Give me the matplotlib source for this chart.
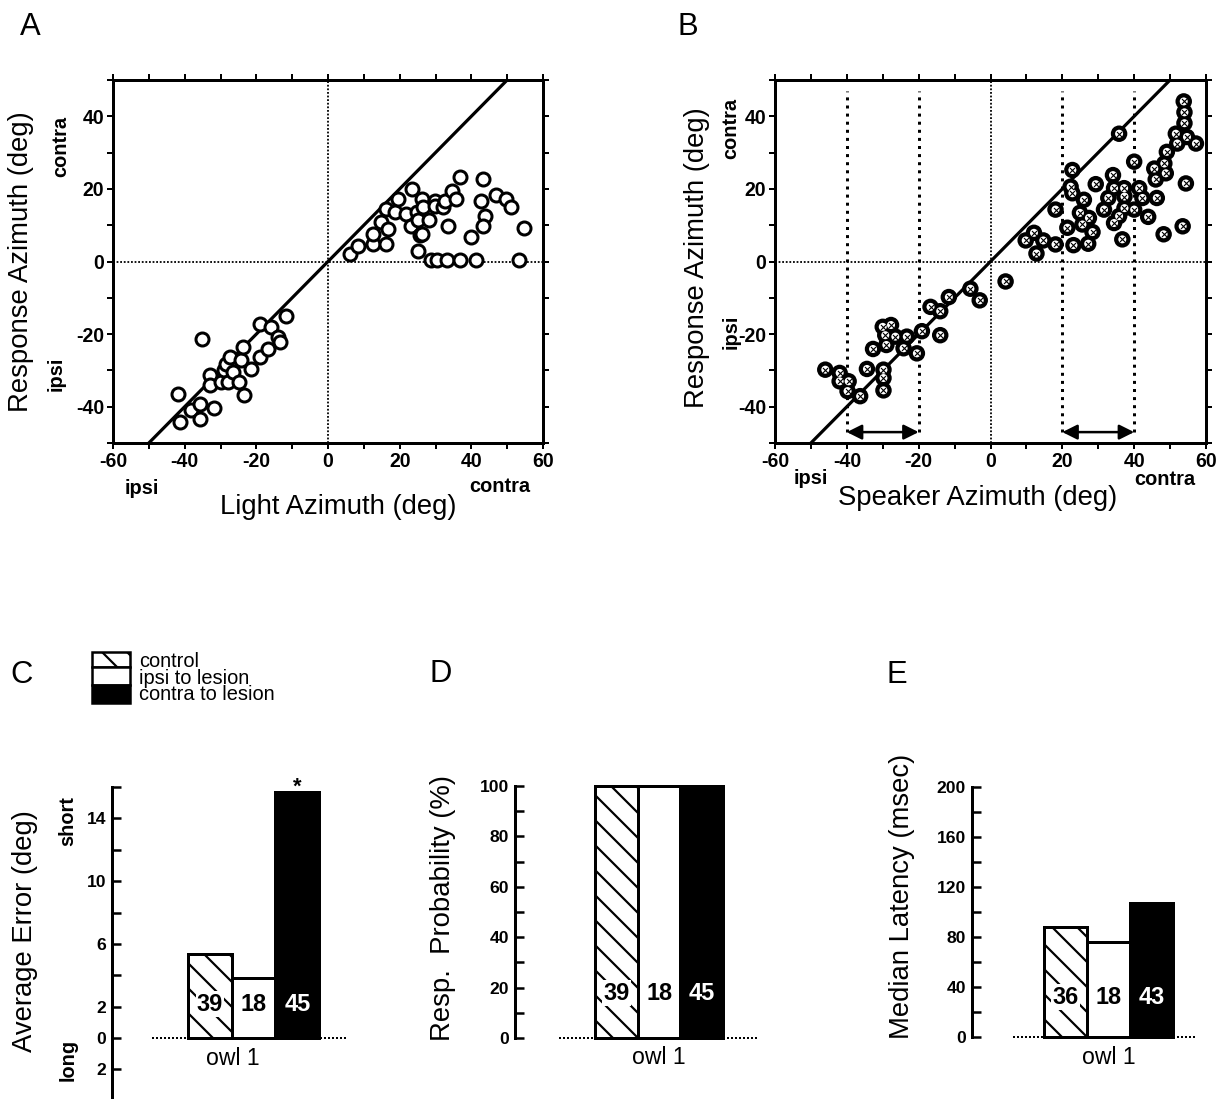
import matplotlib
matplotlib.use('Agg')
import matplotlib.pyplot as plt
from matplotlib.patches import Rectangle
from matplotlib.ticker import MultipleLocator, FixedLocator, FixedFormatter

# ---------------- data ----------------
# Panel A: light azimuth vs response azimuth (deg)
light_az = [-41.9, -41.4, -38.1, -35.8, -35.8, -35.3, -31.8, -32.8, -32.8, -29.8,
            -29.1, -28.6, -27.4, -27.9, -26.5, -24.7, -24.2, -23.7, -23.5, -21.4,
            -19.1, -19.1, -16.7, -15.8, -14.0, -13.5, -11.6,
            6.0, 8.4, 12.6, 12.6, 16.1, 14.9, 16.7, 16.3, 18.6, 19.5, 21.9, 23.3,
            23.5, 24.7, 25.1, 25.6, 26.3, 25.1, 26.3, 26.5, 28.2, 28.8, 29.8, 29.8,
            30.4, 32.1, 32.6, 33.2, 33.5, 34.7, 35.8, 36.7, 36.9, 40.0, 41.4, 43.3,
            42.8, 43.7, 43.3, 47.0, 49.8, 51.2, 53.3, 54.6]
light_resp = [-36.4, -44.2, -41.0, -39.2, -43.3, -21.3, -40.4, -31.4, -34.1, -33.2,
              -30.0, -28.2, -26.3, -33.2, -30.5, -33.2, -27.2, -23.6, -36.9, -29.5,
              -26.3, -17.3, -24.0, -18.1, -20.8, -22.2, -14.9,
              2.1, 4.4, 4.9, 7.6, 4.9, 10.8, 9.0, 14.5, 13.6, 17.2, 13.1, 9.9,
              20.0, 13.6, 11.3, 7.2, 7.6, 3.0, 17.2, 15.0, 11.3, 0.3, 16.8, 15.4,
              0.3, 15.0, 16.8, 0.3, 9.9, 19.5, 17.2, 23.2, 0.3, 6.7, 0.3, 22.8,
              16.8, 12.4, 9.9, 18.4, 17.2, 15.0, 0.3, 9.3]

# Panel B: speaker azimuth vs response azimuth (deg)
speaker_az = [-46.0, -42.0, -42.0, -39.5, -39.8, -36.3, -34.4, -29.8, -29.8, -29.8,
              -32.7, -29.0, -30.0, -27.7, -29.3, -26.5, -24.2, -23.3, -20.5, -19.1,
              -16.7, -14.0, -14.0, -11.6, -5.6, -3.0, 4.2,
              9.8, 12.1, 14.7, 12.8, 18.1, 18.1, 21.4, 23.1, 27.2, 22.8, 22.3, 22.8,
              26.0, 24.9, 27.4, 25.6, 28.4, 29.3, 31.6, 32.8, 34.1, 34.4, 34.4, 37.3,
              37.3, 37.2, 35.8, 36.7, 35.8, 40.0, 40.0, 41.4, 42.3, 43.9, 45.6, 46.0,
              46.3, 48.4, 48.8, 49.1, 48.2, 51.6, 52.0, 53.8, 54.0, 54.0, 54.7, 57.2,
              54.4, 53.5]
speaker_resp = [-29.8, -30.7, -33.0, -33.0, -35.7, -37.1, -29.6, -29.8, -32.1, -35.5,
                -24.1, -23.0, -18.0, -17.5, -20.3, -20.7, -23.9, -20.7, -25.3, -19.2,
                -12.5, -13.7, -20.3, -9.8, -7.5, -10.7, -5.5,
                5.8, 7.9, 5.8, 2.2, 4.7, 14.3, 9.3, 4.5, 4.9, 25.2, 20.6, 18.8,
                17.0, 13.4, 12.0, 10.2, 8.1, 21.3, 14.3, 17.5, 23.8, 20.2, 10.6, 17.9,
                14.7, 20.2, 12.5, 6.1, 35.2, 27.5, 14.3, 20.2, 17.5, 12.3, 25.6, 22.6,
                17.5, 27.0, 24.3, 30.2, 7.5, 35.2, 32.5, 44.1, 41.1, 38.1, 34.3, 32.5,
                21.5, 9.7]

# Panels C-E
groups = ['control', 'ipsi to lesion', 'contra to lesion']
owl_label = 'owl 1'
error_vals = [5.35, 3.85, 15.7]
error_n = ['39', '18', '45']
prob_vals = [100, 100, 100]
prob_n = ['39', '18', '45']
latency_vals = [88, 76, 107]
latency_n = ['36', '18', '43']

# ---------------- setup ----------------
DPI = 150
W, H = 1219, 1099
plt.rcParams['font.family'] = ['Liberation Sans', 'DejaVu Sans']
plt.rcParams['axes.unicode_minus'] = False
plt.rcParams['hatch.linewidth'] = 1.05
plt.rcParams['hatch.color'] = 'black'

def P(px):
    return px * 72.0 / DPI

def fx(px):
    return px / W

def fy(py):
    return 1 - py / H

def rect(l, t, r, b):
    return [l / W, 1 - b / H, (r - l) / W, (b - t) / H]

fig = plt.figure(figsize=(W / DPI, H / DPI), dpi=DPI)
fig.patch.set_facecolor('white')

def scatter_axes(box):
    ax = fig.add_axes(box)
    ax.set_xlim(-60, 60)
    ax.set_ylim(-50, 50)
    for s in ax.spines.values():
        s.set_linewidth(P(3))
    ax.xaxis.set_major_locator(MultipleLocator(20))
    ax.xaxis.set_minor_locator(MultipleLocator(10))
    ax.yaxis.set_major_locator(MultipleLocator(20))
    ax.yaxis.set_minor_locator(MultipleLocator(10))
    ax.tick_params(which='both', direction='out', length=P(6), width=P(2),
                   top=True, right=True, labeltop=False, labelright=False, pad=P(3))
    for lab in ax.get_xticklabels() + ax.get_yticklabels():
        lab.set_fontweight('bold')
        lab.set_fontsize(P(19.5))
    ax.axhline(0, color='black', lw=P(1.8), ls=(0, (1, 1)), zorder=1)
    ax.axvline(0, color='black', lw=P(1.8), ls=(0, (1, 1)), zorder=1)
    ax.axline((0, 0), slope=1, color='black', lw=P(3.2), zorder=2)
    return ax

# ---------------- panel A ----------------
axA = scatter_axes(rect(113, 80, 543, 443))
axA.scatter(light_az, light_resp, s=P(13) ** 2, facecolors='white',
            edgecolors='black', linewidths=P(3), zorder=3)

# ---------------- panel B ----------------
axB = scatter_axes(rect(775, 80, 1206, 443))
for xv in (-40, -20, 20, 40):
    axB.vlines(xv, -47, 47, color='black', lw=P(3), ls=(0, (1, 1.7)), zorder=1)
for (a, b) in ((-40, -20), (20, 40)):
    axB.annotate('', xy=(a, -47), xytext=(b, -47),
                 arrowprops=dict(arrowstyle='<|-|>,head_length=0.6,head_width=0.3',
                                 lw=P(2.5), color='black', shrinkA=0, shrinkB=0))
axB.scatter(speaker_az, speaker_resp, s=P(16.5) ** 2, facecolors='black',
            edgecolors='none', zorder=3)
axB.scatter(speaker_az, speaker_resp, s=P(8) ** 2, facecolors='white',
            edgecolors='none', zorder=4)
axB.scatter(speaker_az, speaker_resp, s=P(5) ** 2, marker='x', color='black',
            linewidths=P(1.1), zorder=5)

# top labels
lab_fs = P(27.5)
fig.text(fx(30), fy(27), 'A', fontsize=P(31), ha='center', va='center')
fig.text(fx(688), fy(27), 'B', fontsize=P(31), ha='center', va='center')
fig.text(fx(21), fy(262), 'Response Azimuth (deg)', fontsize=lab_fs, rotation=90,
         ha='center', va='center')
fig.text(fx(697), fy(258), 'Response Azimuth (deg)', fontsize=lab_fs, rotation=90,
         ha='center', va='center')
fig.text(fx(338), fy(507), 'Light Azimuth (deg)', fontsize=lab_fs, ha='center', va='center')
fig.text(fx(978), fy(498), 'Speaker Azimuth (deg)', fontsize=lab_fs, ha='center', va='center')
small = dict(fontsize=P(20), fontweight='bold', ha='center', va='center')
fig.text(fx(61), fy(146), 'contra', rotation=90, **small)
fig.text(fx(56), fy(374), 'ipsi', rotation=90, **small)
fig.text(fx(142), fy(488), 'ipsi', **small)
fig.text(fx(500), fy(487), 'contra', **small)
fig.text(fx(731), fy(128), 'contra', rotation=90, **small)
fig.text(fx(731), fy(332), 'ipsi', rotation=90, **small)
fig.text(fx(811), fy(479), 'ipsi', **small)
fig.text(fx(1165), fy(480), 'contra', **small)

# ---------------- bar panels ----------------
def bar_axes(box, xlim, ylim, base_frac, vals, ns, owl_x, num_off):
    ax = fig.add_axes(box)
    ax.set_xlim(*xlim)
    ax.set_ylim(*ylim)
    for side in ('top', 'right', 'bottom'):
        ax.spines[side].set_visible(False)
    ax.spines['left'].set_linewidth(P(3))
    ax.set_xticks([])
    ax.patch.set_alpha(0)
    bars = ax.bar(range(len(vals)), vals, width=1.0,
                  color=['white', 'white', 'black'], edgecolor='black',
                  linewidth=P(3), zorder=3, clip_on=False)
    bars[0].set_hatch('\\\\')
    ax.axhline(0, xmin=base_frac, xmax=1, color='black', lw=P(2),
               ls=(0, (1, 1)), zorder=1, clip_on=False)
    for i, n in enumerate(ns):
        bb = dict(facecolor='white', edgecolor='none', pad=0.6) if i == 0 else None
        ax.annotate(n, xy=(i, 0), xytext=(0, P(num_off)), textcoords='offset points',
                    ha='center', va='center', fontsize=P(23.5), fontweight='bold',
                    color='white' if i == 2 else 'black', zorder=5, bbox=bb)
    ax.annotate(owl_label, xy=(owl_x, 0), xytext=(0, -P(20)), textcoords='offset points',
                ha='center', va='center', fontsize=P(23), annotation_clip=False)
    ax.tick_params(axis='y', direction='in', length=P(9), width=P(2.5), pad=P(6))
    return ax, bars

# C
axC, barsC = bar_axes(rect(112, 787, 348, 1099), (-2.24, 3.16), (-3.885, 16), 0.170,
                      error_vals, error_n, 0.53, 34)
c_ticks = list(range(-4, 17, 2))
c_labels = ['' if t in (-4, 4, 8, 12, 16) else str(abs(t)) for t in c_ticks]
axC.yaxis.set_major_locator(FixedLocator(c_ticks))
axC.yaxis.set_major_formatter(FixedFormatter(c_labels))
axC.annotate('*', xy=(2, error_vals[2]), xytext=(0, P(4)), textcoords='offset points',
             ha='center', va='center', fontsize=P(22), fontweight='bold')

# D
axD, barsD = bar_axes(rect(515, 786, 757, 1038), (-2.37, 3.29), (0, 100), 0.182,
                      prob_vals, prob_n, 1, 45)
d_ticks = list(range(0, 101, 10))
axD.yaxis.set_major_locator(FixedLocator(d_ticks))
axD.yaxis.set_major_formatter(FixedFormatter([str(t) if t % 20 == 0 else '' for t in d_ticks]))

# E
axE, barsE = bar_axes(rect(972, 787, 1197, 1037), (-2.17, 3.06), (0, 200), 0.182,
                      latency_vals, latency_n, 1, 40)
e_ticks = list(range(0, 201, 20))
axE.yaxis.set_major_locator(FixedLocator(e_ticks))
axE.yaxis.set_major_formatter(FixedFormatter([str(t) if t % 40 == 0 else '' for t in e_ticks]))

for ax in (axC, axD, axE):
    for lab in ax.get_yticklabels():
        lab.set_fontweight('bold')
        lab.set_fontsize(P(17.5))

fig.text(fx(22), fy(675), 'C', fontsize=P(31), ha='center', va='center')
fig.text(fx(441), fy(674), 'D', fontsize=P(31), ha='center', va='center')
fig.text(fx(897), fy(675), 'E', fontsize=P(31), ha='center', va='center')
fig.text(fx(25), fy(931), 'Average Error (deg)', fontsize=lab_fs, rotation=90,
         ha='center', va='center')
fig.text(fx(443), fy(908), 'Resp.  Probability (%)', fontsize=lab_fs, rotation=90,
         ha='center', va='center')
fig.text(fx(902), fy(896), 'Median Latency (msec)', fontsize=lab_fs, rotation=90,
         ha='center', va='center')
fig.text(fx(68), fy(821), 'short', rotation=90, **small)
fig.text(fx(68), fy(1060), 'long', rotation=90, **small)

# legend drawn as swatches + one multi-line text block
sw_left, sw_right = 92, 130
rows = [(652, 667), (667, 685), (685, 703)]
fills = ['white', 'white', 'black']
hatches = ['\\\\', '', '']
for (t, b), fc, hc in zip(rows, fills, hatches):
    r = Rectangle((fx(sw_left), fy(b)), (sw_right - sw_left) / W, (b - t) / H,
                  transform=fig.transFigure, facecolor=fc, edgecolor='black',
                  linewidth=P(2.5), hatch=hc)
    fig.add_artist(r)
fig.text(fx(139), fy(678), '\n'.join(groups), fontsize=P(20), ha='left', va='center',
         linespacing=0.82)

fig.savefig('out.png', dpi=DPI)
